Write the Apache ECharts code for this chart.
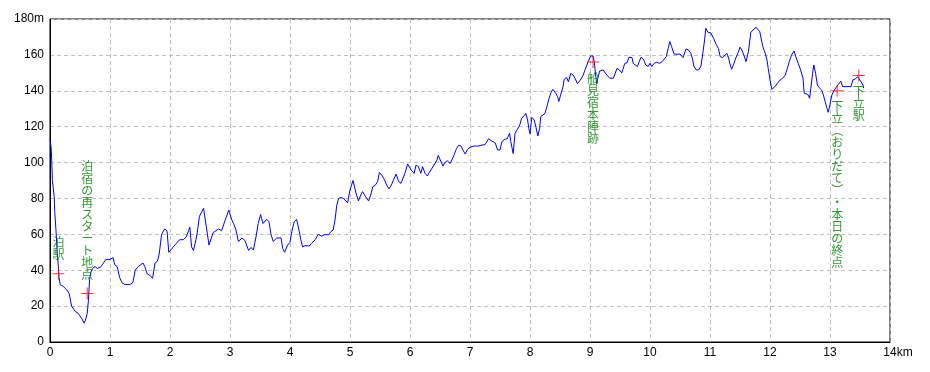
<!DOCTYPE html>
<html><head><meta charset="utf-8">
<script src="https://cdn.jsdelivr.net/npm/echarts@6/dist/echarts.min.js"></script>
<style>html,body{margin:0;padding:0;background:#fff}#c{width:930px;height:372px}</style>
</head><body><div id="c"></div>
<script>
const distKm = [0,0.02,0.03,0.04,0.07,0.08,0.10,0.12,0.14,0.15,0.17,0.22,0.28,0.32,0.36,0.42,0.47,0.50,0.53,0.57,0.59,0.62,0.64,0.66,0.68,0.71,0.75,0.79,0.85,0.89,0.93,1.00,1.05,1.08,1.12,1.16,1.20,1.25,1.28,1.33,1.38,1.42,1.47,1.55,1.58,1.62,1.67,1.71,1.75,1.79,1.82,1.86,1.91,1.95,1.98,2.03,2.08,2.16,2.22,2.27,2.31,2.33,2.36,2.39,2.42,2.45,2.49,2.56,2.65,2.72,2.81,2.86,2.92,2.98,3.03,3.06,3.10,3.14,3.20,3.25,3.31,3.35,3.39,3.43,3.47,3.51,3.55,3.58,3.61,3.65,3.68,3.72,3.78,3.85,3.88,3.91,3.96,4.00,4.03,4.07,4.11,4.15,4.18,4.21,4.25,4.32,4.36,4.42,4.47,4.53,4.57,4.65,4.68,4.72,4.75,4.78,4.81,4.85,4.89,4.92,4.96,5.00,5.05,5.07,5.10,5.14,5.18,5.21,5.25,5.28,5.31,5.35,5.38,5.42,5.46,5.49,5.53,5.57,5.61,5.65,5.69,5.73,5.77,5.81,5.85,5.88,5.92,5.96,5.99,6.02,6.07,6.10,6.14,6.18,6.21,6.25,6.29,6.32,6.37,6.45,6.47,6.50,6.55,6.58,6.62,6.67,6.72,6.77,6.81,6.85,6.88,6.92,6.96,7.00,7.03,7.07,7.10,7.14,7.18,7.25,7.28,7.31,7.35,7.38,7.42,7.46,7.50,7.53,7.58,7.62,7.66,7.68,7.70,7.72,7.75,7.79,7.83,7.86,7.90,7.93,7.96,7.98,8.00,8.03,8.07,8.10,8.13,8.16,8.18,8.21,8.25,8.28,8.31,8.35,8.38,8.41,8.43,8.46,8.48,8.51,8.55,8.57,8.61,8.64,8.68,8.72,8.75,8.79,8.83,8.88,8.92,8.95,8.97,9.01,9.05,9.07,9.11,9.16,9.22,9.28,9.33,9.39,9.42,9.45,9.49,9.53,9.56,9.58,9.62,9.65,9.70,9.72,9.75,9.79,9.82,9.85,9.89,9.93,9.97,10.00,10.03,10.07,10.11,10.16,10.20,10.23,10.27,10.31,10.33,10.36,10.40,10.45,10.50,10.55,10.57,10.60,10.64,10.68,10.71,10.73,10.77,10.81,10.85,10.88,10.91,10.93,10.97,11.01,11.06,11.10,11.14,11.17,11.21,11.24,11.28,11.31,11.33,11.36,11.39,11.43,11.47,11.50,11.53,11.57,11.60,11.64,11.68,11.72,11.77,11.80,11.83,11.88,11.92,11.95,11.97,12.00,12.03,12.06,12.08,12.12,12.17,12.21,12.25,12.29,12.32,12.36,12.40,12.43,12.47,12.51,12.55,12.57,12.60,12.63,12.66,12.68,12.71,12.73,12.76,12.79,12.82,12.86,12.89,12.92,12.95,12.97,13.00,13.03,13.07,13.10,13.14,13.18,13.21,13.35,13.38,13.42,13.46,13.49,13.51,13.55,13.56];
const elevM = [113,108,100,90,81,72,62,50,42,36,32,31,29,27,20,17,16,15,13,10.5,12,16,23,35,39,41,42,41,42,44,46,46,47,43,42,36,33,32,33,32,33,40,42,44,42,38,37,35.5,44,45,49,60,63,62,50,52,54,57,57,58.5,62,64,53,51,55,60,70,74.5,54,61,63,62,68,73.5,68,66,62.4,56,58,56.5,51,52.7,51.3,58,66,71,66,65.8,68.4,67,60.5,56,58,58,52,50,54,55.6,61.5,67,68.4,62.4,57,53,53.7,53.5,55,57,60,59,59.8,59.8,61.5,62.4,68,76.3,80,80.5,80,81,77.6,84.7,90,89,83,78.6,82,83.8,81.4,80.6,78.6,82.5,86.6,87.3,89.4,94.4,93,90.7,87.5,85.3,87.5,90.7,93.6,89.4,88.4,89.4,94.4,99.2,99.5,95.8,94,98.6,97.7,94,97.7,94,92.5,94.4,97,101.4,104,103,98,100,101,99.5,103,107.4,109.6,109.2,107,104.8,107.4,108.5,107.4,109.2,110.3,109.2,109.6,110,111.6,113.3,112.2,111.6,111,107,107,111.6,113,113.3,116.3,111.6,110.7,105,116.3,118.5,121,124.6,126,127.4,123.7,119,116,125.2,123.7,119.6,114.8,119,125.6,124.6,127.4,131,134.9,139,140.8,141.4,138.6,136.7,134,137.6,142.3,146.4,147.5,145,149.7,148.8,147,144,145.6,148.2,151.9,153,156.2,159.4,159.4,156.2,144,151,151.6,148.8,147,147,148,152.5,151.6,150,149.7,155.3,155.7,158.7,158.5,155.3,155.7,153.5,156.2,158.7,157.6,154.4,153.5,155.3,153.5,155.3,155.9,155.3,156.2,155.3,159,164.6,167.4,164.6,160.5,160.3,160.5,158.5,158.7,163.3,162.7,160.9,157.6,153.8,151.6,151.6,153.8,160.9,168.3,174.8,172.4,172.4,169.2,166,163.6,159,158.5,159,160.9,158.3,155.3,152,154.4,158.3,161.3,164.3,162.7,159.4,156.2,161.8,172.4,174,175.4,176.1,172.9,164.6,160.9,157.2,152.5,146,140.8,140.4,142.3,144,146,147,148.4,152.5,156.2,160,162.2,159,155.3,151.6,147,138.6,137.6,138,135.8,141.4,149.7,154.4,149.7,143.2,141.7,140.4,137.6,133.9,130.2,128,132.4,137.6,140.4,141.7,143.6,145.4,142.3,142.3,146,146.5,147.9,147.4,145.4,143.2,141.4];

const placeNames = ['泊駅','泊宿の再スタート地点','船見宿本陣跡','下立︵おりだて︶・本日の終点','下立駅'];
const placeKm = [0.14,0.62,9.05,13.12,13.48];
const placeElev = [38,27,156,140,148.5];
const placeAbove = [true,true,false,false,false];

const xTicks = ['0','1','2','3','4','5','6','7','8','9','10','11','12','13','14km'];
const yTicks = ['0','20','40','60','80','100','120','140','160','180m'];

const lineData = distKm.map((d,i)=>[d,elevM[i]]);
const placeData = placeNames.map((n,i)=>({
  value:[placeKm[i],placeElev[i]], name:n,
  label:{position: placeAbove[i]?'top':'bottom', distance: placeAbove[i]?7:4}
}));

const chart = echarts.init(document.getElementById('c'), null, {renderer:'canvas'});
const font = 'Liberation Sans, DejaVu Sans, sans-serif';
chart.setOption({
  animation:false,
  backgroundColor:'#fff',
  grid:{left:50,right:40,top:19,bottom:30,show:true,borderColor:'#000',borderWidth:1,backgroundColor:'transparent'},
  xAxis:{type:'value',min:0,max:14,interval:1,
    axisLine:{show:true,lineStyle:{color:'#000',width:1}},
    axisTick:{show:false},
    splitLine:{show:true,lineStyle:{color:'#c0c0c0',type:[4,3],width:1}},
    axisLabel:{color:'#000',fontSize:12,fontFamily:font,margin:5,
      formatter:(v)=>{const s=xTicks[Math.round(v)]; return Math.round(v)===14?'{k|'+s+'}':s;},
      rich:{k:{color:'#000',fontSize:12,fontFamily:font,padding:[0,0,0,16]}}}
  },
  yAxis:{type:'value',min:0,max:180,interval:20,
    axisLine:{show:true,lineStyle:{color:'#000',width:1}},
    axisTick:{show:false},
    splitLine:{show:true,lineStyle:{color:'#c0c0c0',type:[4,3],width:1}},
    axisLabel:{color:'#000',fontSize:12,fontFamily:font,margin:6,
      formatter:(v)=>yTicks[Math.round(v/20)]}
  },
  series:[
    {type:'line',data:lineData,showSymbol:false,symbol:'none',
      lineStyle:{color:'#0000ff',width:1},z:2},
    {type:'scatter',data:placeData,
      symbol:'path://M0,5.5h12v1h-12z M5.5,0h1v12h-1z',symbolSize:12,
      itemStyle:{color:'#ff0000'},z:3,
      label:{show:true,color:'#008000',fontSize:12,lineHeight:12,
        fontFamily:'Noto Sans CJK JP, sans-serif',align:'center',
        formatter:(p)=>Array.from(p.name).join('\n')}
    }
  ]
});
</script>
</body></html>
